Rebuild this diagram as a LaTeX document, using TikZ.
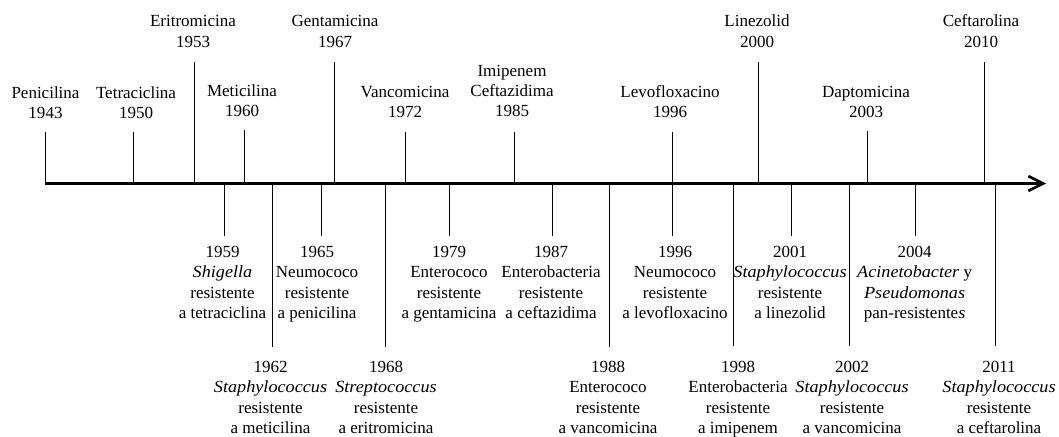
\documentclass[tikz,border=0pt]{standalone}
\usepackage{fontspec}
\setmainfont{Liberation Serif}
\newfontfamily\spitfont{Liberation Serif Italic}[FakeStretch=1.07]
\newcommand{\spc}[1]{{\spitfont #1}}
\usetikzlibrary{arrows.meta}
\begin{document}
\begin{tikzpicture}[x=0.75pt,y=-0.75pt,
  lab/.style={align=center,inner sep=0pt,font=\fontsize{12.75}{15.3}\selectfont},
  up/.style={lab,anchor=south},
  down/.style={lab,anchor=north},
  tick/.style={line width=0.75pt},
  axis/.style={line width=2.25pt,-{Straight Barb[length=11pt,width=11pt,line width=2pt]}}]
\useasboundingbox (0,0) rectangle (1059,436);
\coordinate (axL) at (45,183.5);
\coordinate (axR) at (1046,183.5);
\draw[axis] (axL) -- (axR);
% top ticks
\foreach \n/\x/\y in {1943/45.7/132,1950/133/132,1953/194/62,1960/244/130,1967/334.3/62,
  1972/405.7/132,1985/514.3/132,1996/672.3/132,2000/758.3/62,2003/867/131,2010/984/62,
  r1959/224.3/236,r1962/272.7/347,r1965/321/236,r1968/385.7/347,r1979/449/236,r1987/552.3/236,
  r1988/609.3/347,r1996/672.3/236,r1998/733.3/346,r2001/791/236,r2002/849/346,r2004/915/236,r2011/995.7/346}
  {\coordinate (k\n) at (\x,\y); \draw[tick] (k\n) -- (k\n |- axL);}
% top labels
\node[up] (pen) at (45.5,119) {Penicilina\\1943};
\node[up] (tet) at (136,119) {Tetraciclina\\1950};
\node[up] (eri) at (193,47.5) {Eritromicina\\1953};
\node[up] (met) at (242,117.3) {Meticilina\\1960};
\node[up] (gen) at (335,47.5) {Gentamicina\\1967};
\node[up] (van) at (405,118) {Vancomicina\\1972};
\node[up] (imi) at (512,117.3) {Imipenem\\Ceftazidima\\1985};
\node[up] (lev) at (670,118) {Levofloxacino\\1996};
\node[up] (lin) at (757,47.5) {Linezolid\\2000};
\node[up] (dap) at (866,118) {Daptomicina\\2003};
\node[up] (cef) at (981,47.5) {Ceftarolina\\2010};
% bottom labels, first row
\node[down] (b1959) at (222.5,246) {1959\\\spc{Shigella}\\resistente\\a tetraciclina};
\node[down] (b1965) at (317,246) {1965\\Neumococo\\resistente\\a penicilina};
\node[down] (b1979) at (449,246) {1979\\Enterococo\\resistente\\a gentamicina};
\node[down] (b1987) at (551,246) {1987\\Enterobacteria\\resistente\\a ceftazidima};
\node[down] (b1996) at (675,246) {1996\\Neumococo\\resistente\\a levofloxacino};
\node[down] (b2001) at (790,246) {2001\\\spc{Staphylococcus}\\resistente\\a linezolid};
\node[down] (b2004) at (914.6,246) {2004\\\spc{Acinetobacter} y\\\spc{Pseudomonas}\\pan-resistente\spc{s}};
% bottom labels, second row
\node[down] (b1962) at (270.5,361) {1962\\\spc{Staphylococcus}\\resistente\\a meticilina};
\node[down] (b1968) at (386,361) {1968\\\spc{Streptococcus}\\resistente\\a eritromicina};
\node[down] (b1988) at (608,361) {1988\\Enterococo\\resistente\\a vancomicina};
\node[down] (b1998) at (738,361) {1998\\Enterobacteria\\resistente\\a imipenem};
\node[down] (b2002) at (852,361) {2002\\\spc{Staphylococcus}\\resistente\\a vancomicina};
\node[down] (b2011) at (999,361) {2011\\\spc{Staphylococcus}\\resistente\\a ceftarolina};
\end{tikzpicture}
\end{document}
